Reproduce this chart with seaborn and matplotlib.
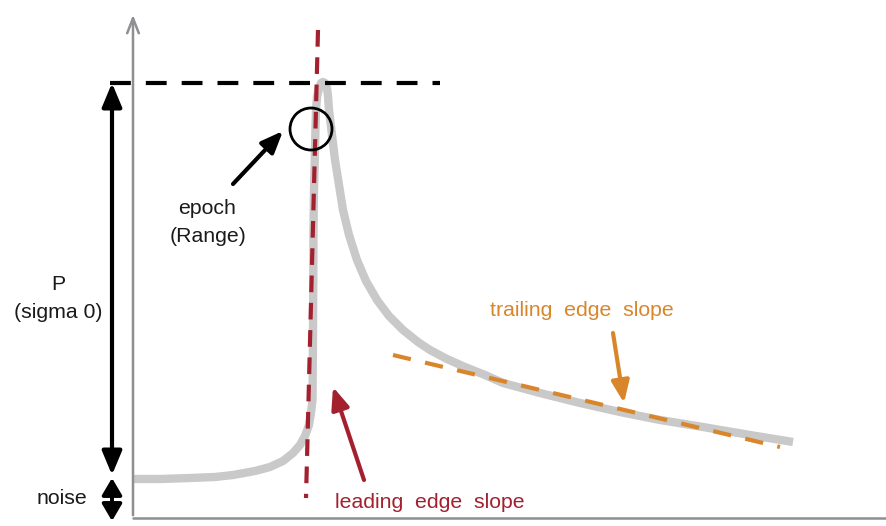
import numpy as np
import pandas as pd
import matplotlib.pyplot as plt
import seaborn as sns
from matplotlib.patches import Circle

# waveform (pixel units, y grows downward)
wave_x = [133, 160, 190, 215, 233, 255, 270, 283, 293, 300, 305, 309, 311, 312.5,
          313, 313, 313, 313, 313.5, 314, 315, 315.5, 316, 317, 319, 321, 323,
          325, 327, 328, 329, 332, 335, 339, 343, 349, 357, 366, 377, 389, 403,
          418, 430, 447, 465, 485, 503, 540, 580, 620, 660, 703, 750, 793]
wave_y = [479, 479, 478, 477, 475, 471, 467, 461, 453, 445, 436, 425, 413, 400,
          385, 360, 320, 280, 227, 190, 150, 127, 110, 97, 88, 83, 82,
          83, 88, 96, 110, 135, 160, 185, 210, 235, 260, 281, 300, 316, 330,
          342, 350, 359, 367, 375, 383, 393, 403, 412, 420, 427, 435, 442]

# fitted edges
lead_x = [318, 306]
lead_y = [30, 498]
trail_x = [393, 780]
trail_y = [355, 447]

peak_y = 83
noise_y = 477
base_y = 518

gray_curve = "#c8c9c8"
axis_gray = "#8e8e93"
red = "#a3202f"
orange = "#d9862b"

sns.set_theme(style="white")
plt.rcParams['font.family'] = ['Liberation Sans', 'DejaVu Sans']

fig = plt.figure(figsize=(8.86, 5.26), dpi=100)
ax = fig.add_axes([0, 0, 1, 1])
ax.set_xlim(0, 886)
ax.set_ylim(526, 0)
ax.axis("off")

# axes of the diagram
ax.annotate("", xy=(133, 12), xytext=(133, base_y),
            arrowprops=dict(arrowstyle="->,head_length=0.9,head_width=0.35", color=axis_gray, lw=1.8))
ax.plot([133, 886], [base_y, base_y], color=axis_gray, lw=1.8)

# waveform
df = pd.DataFrame({"x": wave_x, "y": wave_y})
sns.lineplot(data=df, x="x", y="y", sort=False, ax=ax, color=gray_curve, lw=6, zorder=2,
             solid_capstyle="butt", solid_joinstyle="round")

# peak level
ax.plot([110, 440], [peak_y, peak_y], color="black", lw=3, dashes=(5, 3.6), zorder=3)

# leading edge slope line
ax.plot(lead_x, lead_y, color=red, lw=3, dashes=(4, 2.55), zorder=4)

# trailing edge slope line
ax.plot(trail_x, trail_y, color=orange, lw=3, dashes=(4.4, 3.5), zorder=4)

# epoch circle
ax.add_patch(Circle((311, 129), 21, fill=False, ec="black", lw=2, zorder=5))

# P arrow and noise arrow
ax.annotate("", xy=(112, peak_y), xytext=(112, 475),
            arrowprops=dict(arrowstyle="<|-|>,head_length=1.2,head_width=0.5", color="black", lw=3,
                            shrinkA=0, shrinkB=0))
ax.annotate("", xy=(112, noise_y + 1), xytext=(112, 521),
            arrowprops=dict(arrowstyle="<|-|>,head_length=0.85,head_width=0.5", color="black", lw=2.8,
                            shrinkA=0, shrinkB=0))

# epoch arrow
ax.annotate("", xy=(283, 131), xytext=(233, 184),
            arrowprops=dict(arrowstyle="-|>,head_length=1.1,head_width=0.45", color="black", lw=3,
                            shrinkA=0, shrinkB=0))
# leading edge arrow
ax.annotate("", xy=(333, 387), xytext=(364, 480),
            arrowprops=dict(arrowstyle="-|>,head_length=1.1,head_width=0.45", color=red, lw=3,
                            shrinkA=0, shrinkB=0))
# trailing edge arrow
ax.annotate("", xy=(624, 403), xytext=(613, 333),
            arrowprops=dict(arrowstyle="-|>,head_length=1.1,head_width=0.45", color=orange, lw=3,
                            shrinkA=0, shrinkB=0))

fs = 15.3
ax.text(58, 285, "P", ha="center", va="center", fontsize=fs, color="#1a1a1a")
ax.text(58, 313, "(sigma 0)", ha="center", va="center", fontsize=fs, color="#1a1a1a")
ax.text(62, 498, "noise", ha="center", va="center", fontsize=fs, color="#1a1a1a")
ax.text(207, 208, "epoch", ha="center", va="center", fontsize=fs, color="#1a1a1a")
ax.text(208, 237, "(Range)", ha="center", va="center", fontsize=fs, color="#1a1a1a")
ax.text(335, 502, "leading  edge  slope", ha="left", va="center", fontsize=fs, color=red)
ax.text(582, 311, "trailing  edge  slope", ha="center", va="center", fontsize=fs, color=orange)

fig.savefig("out.png", dpi=100)
